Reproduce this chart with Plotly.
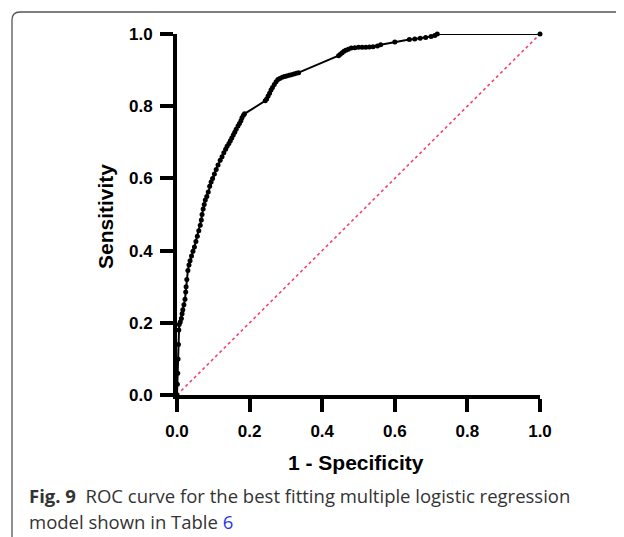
import plotly.graph_objects as go

# ROC curve values
fpr = [0.000, 0.001, 0.002, 0.003, 0.004, 0.005, 0.006, 0.009, 0.012, 0.014,
       0.016, 0.019, 0.022, 0.024, 0.025, 0.027, 0.030, 0.033, 0.036, 0.040,
       0.044, 0.048, 0.052, 0.056, 0.060, 0.064, 0.067, 0.069, 0.072, 0.075,
       0.078, 0.082, 0.086, 0.090, 0.094, 0.098, 0.103, 0.108, 0.113, 0.119,
       0.124, 0.129, 0.134, 0.138, 0.143, 0.147, 0.151, 0.155, 0.159, 0.163,
       0.168, 0.172, 0.176, 0.179, 0.183, 0.186,
       0.243, 0.247, 0.251, 0.255, 0.259, 0.263, 0.268, 0.273, 0.278, 0.283,
       0.290, 0.296, 0.302, 0.309, 0.315, 0.322, 0.329, 0.335,
       0.445, 0.450, 0.455, 0.460, 0.465, 0.472, 0.480, 0.490, 0.500, 0.510,
       0.520, 0.530, 0.540, 0.552, 0.561, 0.600, 0.640, 0.655, 0.670, 0.685,
       0.700, 0.710, 0.717, 1.000]
tpr = [0.000, 0.030, 0.060, 0.100, 0.140, 0.180, 0.195, 0.202, 0.212, 0.225,
       0.236, 0.250, 0.265, 0.285, 0.300, 0.320, 0.345, 0.360, 0.372, 0.385,
       0.398, 0.410, 0.425, 0.440, 0.455, 0.470, 0.485, 0.500, 0.515, 0.528,
       0.540, 0.550, 0.562, 0.578, 0.590, 0.600, 0.612, 0.625, 0.637, 0.650,
       0.660, 0.671, 0.681, 0.689, 0.697, 0.704, 0.712, 0.720, 0.728, 0.736,
       0.745, 0.752, 0.760, 0.768, 0.775, 0.779,
       0.815, 0.820, 0.828, 0.836, 0.845, 0.852, 0.860, 0.868, 0.874, 0.877,
       0.880, 0.882, 0.884, 0.886, 0.887, 0.889, 0.891, 0.893,
       0.940, 0.944, 0.948, 0.952, 0.955, 0.958, 0.961, 0.962, 0.963, 0.963,
       0.963, 0.964, 0.965, 0.967, 0.970, 0.978, 0.985, 0.986, 0.988, 0.990,
       0.993, 0.996, 1.000, 1.000]
ref_x = [0, 1]
ref_y = [0, 1]
tick_vals = [0.0, 0.2, 0.4, 0.6, 0.8, 1.0]
tick_text = ["0.0", "0.2", "0.4", "0.6", "0.8", "1.0"]
x_title = "1 - Specificity"
y_title = "Sensitivity"
caption1 = "<b>Fig. 9</b>  ROC curve for the best fitting multiple logistic regression"
caption2 = "model shown in Table <span style='color:#2b35e8'>6</span>"

# the page body adds an 8px margin; work in window pixels and shift
OFF = 8
W, H = 624 - OFF, 537 - OFF
L, R, T, B = 177 - OFF, 540 - OFF, 34 - OFF, 395 - OFF


def px(x):
    return (x - OFF - L) / (R - L)


def py(y):
    return (B - (y - OFF)) / (B - T)


axis_font = dict(family="Liberation Sans, Arial", size=17, color="black", weight="bold")

fig = go.Figure()
fig.add_trace(go.Scatter(x=ref_x, y=ref_y, mode="lines",
                         line=dict(color="#f0436a", width=1.6, dash="dot"),
                         cliponaxis=False, hoverinfo="skip"))
fig.add_trace(go.Scatter(x=fpr, y=tpr, mode="lines+markers",
                         line=dict(color="black", width=2.0),
                         marker=dict(color="black", size=5),
                         cliponaxis=False))

common = dict(range=[0, 1], tickvals=tick_vals, ticktext=tick_text,
              showgrid=False, zeroline=False, showline=True, linecolor="black",
              linewidth=4, ticks="outside", ticklen=13, tickwidth=4,
              tickcolor="black", tickfont=axis_font)
fig.update_xaxes(**common, ticklabelstandoff=5)
fig.update_yaxes(**common, ticklabelstandoff=4)

frame_col = "#555555"
x0, y0, r = 12, 12, 8
path = (f"M {px(x0)},{py(560)} L {px(x0)},{py(y0 + r)} "
        f"Q {px(x0)},{py(y0)} {px(x0 + r)},{py(y0)} L {px(640)},{py(y0)}")

fig.update_layout(
    width=W, height=H,
    margin=dict(l=L, r=W - R, t=T, b=H - B),
    plot_bgcolor="white", paper_bgcolor="white",
    showlegend=False,
    shapes=[dict(type="path", xref="paper", yref="paper", path=path,
                 line=dict(color=frame_col, width=1.3))],
    annotations=[
        dict(text=x_title, xref="paper", yref="paper", x=px(356), y=py(462),
             showarrow=False, xanchor="center", yanchor="middle",
             font=dict(family="Liberation Sans, Arial", size=21, color="black", weight="bold")),
        dict(text=y_title, xref="paper", yref="paper", x=px(105), y=py(217),
             showarrow=False, xanchor="center", yanchor="middle", textangle=-90,
             font=dict(family="Liberation Sans, Arial", size=21, color="black", weight="bold")),
        dict(text=caption1, xref="paper", yref="paper", x=px(27), y=py(495),
             showarrow=False, xanchor="left", yanchor="middle",
             font=dict(family="Open Sans", size=18.5, color="#333333")),
        dict(text=caption2, xref="paper", yref="paper", x=px(27), y=py(521),
             showarrow=False, xanchor="left", yanchor="middle",
             font=dict(family="Open Sans", size=18.5, color="#333333")),
    ],
)

fig.write_html("out.html")
